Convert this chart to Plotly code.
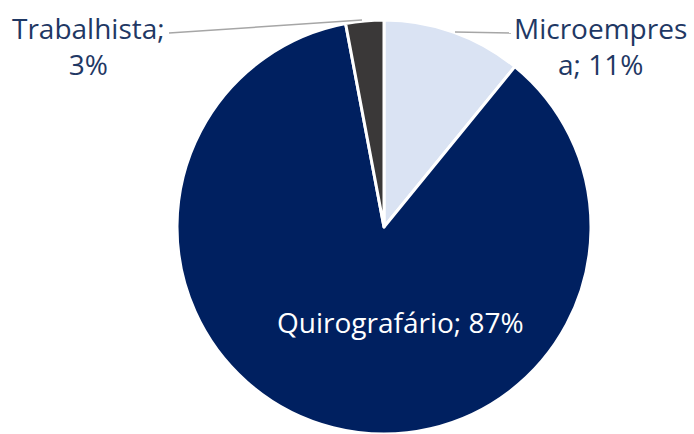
import plotly.graph_objects as go

categories = ["Microempresa", "Quirografário", "Trabalhista"]
values = [11, 87, 3]
percent_labels = ["11%", "87%", "3%"]
colors = ["#DAE3F3", "#002060", "#3A3838"]

W, H = 694, 434
CX, R = 384, 207

fig = go.Figure(go.Pie(
    labels=categories,
    values=values,
    sort=False,
    direction="clockwise",
    rotation=0,
    marker=dict(colors=colors, line=dict(color="white", width=3)),
    textinfo="none",
    hoverinfo="label+percent",
    showlegend=False,
    domain=dict(x=[(CX - R) / W, (CX + R) / W], y=[0, 1 - 20 / H]),
))

def px(x, y):
    return x / W, 1 - y / H

font_out = dict(family="Open Sans, sans-serif", size=28, color="#1F3864")
font_in = dict(family="Open Sans, sans-serif", size=28, color="white")

annotations = []
x, y = px(600, 46)
annotations.append(dict(x=x, y=y, xref="paper", yref="paper", showarrow=False,
                        text=f"{categories[0][:-1]}<br>{categories[0][-1]}; {percent_labels[0]}",
                        align="center", xanchor="center", yanchor="middle", font=font_out))
x, y = px(400, 322)
annotations.append(dict(x=x, y=y, xref="paper", yref="paper", showarrow=False,
                        text=f"{categories[1]}; {percent_labels[1]}",
                        xanchor="center", yanchor="middle", font=font_in))
x, y = px(88, 46)
annotations.append(dict(x=x, y=y, xref="paper", yref="paper", showarrow=False,
                        text=f"{categories[2]};<br>{percent_labels[2]}",
                        align="center", xanchor="center", yanchor="middle", font=font_out))

shapes = []
for (x0, y0, x1, y1) in [(169, 33, 362, 20), (455, 32, 511, 33)]:
    a0, b0 = px(x0, y0)
    a1, b1 = px(x1, y1)
    shapes.append(dict(type="line", xref="paper", yref="paper", x0=a0, y0=b0, x1=a1, y1=b1,
                       line=dict(color="#A6A6A6", width=1.5)))

fig.update_layout(
    width=W, height=H,
    margin=dict(l=0, r=0, t=0, b=0),
    paper_bgcolor="white",
    plot_bgcolor="white",
    annotations=annotations,
    shapes=shapes,
)

fig.write_html("out.html")
